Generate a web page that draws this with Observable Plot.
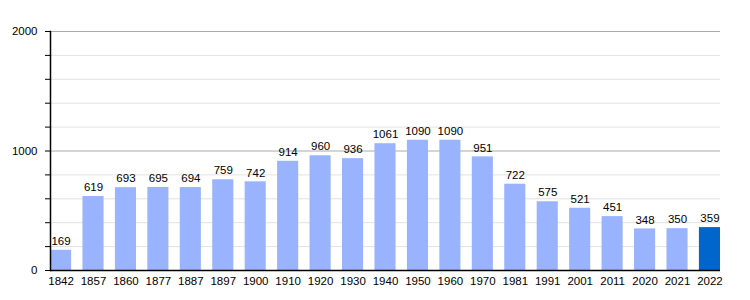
<!DOCTYPE html>
<html><head><meta charset="utf-8">
<script src="https://cdn.jsdelivr.net/npm/d3@7"></script>
<script src="https://cdn.jsdelivr.net/npm/@observablehq/plot@0.6"></script>
<style>body{margin:0;background:#fff;font-family:"Liberation Sans",Arial,sans-serif}</style>
</head><body><div id="chart"></div>
<script>
const years = ["1842","1857","1860","1877","1887","1897","1900","1910","1920","1930","1940","1950","1960","1970","1981","1991","2001","2011","2020","2021","2022"];
const population = [169,619,693,695,694,759,742,914,960,936,1061,1090,1090,951,722,575,521,451,348,350,359];
const highlightYear = "2022";
const majorTicks = [0,1000,2000];
const minorTicks = [200,400,600,800,1200,1400,1600,1800];

const data = years.map((y,i)=>({year:y, value:population[i]}));

const chart = Plot.plot({
  width: 750, height: 300,
  marginLeft: 50, marginRight: 30, marginTop: 31, marginBottom: 30,
  style: {fontFamily: '"Liberation Sans", Arial, sans-serif', fontSize: "11px", color: "#000", background: "#fff"},
  x: {domain: years, paddingInner: 0.35, paddingOuter: 0, round: false, label: null},
  y: {domain: [0,2000], label: null},
  marks: [
    Plot.ruleY(minorTicks, {stroke: "#e2e2e2", strokeWidth: 1}),
    Plot.ruleY([1000,2000], {stroke: "#aaaaaa", strokeWidth: 1}),
    Plot.barY(data, {x: "year", y: "value", fill: d => d.year === highlightYear ? "#0066cc" : "#99b3ff"}),
    Plot.text(data, {x: "year", y: "value", text: d => String(d.value), dy: -9, fontSize: 11.5, fill: "#000"}),
    Plot.axisY({ticks: [...majorTicks, ...minorTicks], tickSize: 5, tickPadding: 8, tickFormat: d => majorTicks.includes(d) ? String(d) : "", label: null, stroke: "#000", fontSize: 11.5}),
    Plot.frame({anchor: "left", stroke: "#000", strokeWidth: 1.5}),
    Plot.axisX({tickSize: 0, tickPadding: 6, label: null, fontSize: 11.5}),
    Plot.ruleY([0], {stroke: "#000", strokeWidth: 1.5})
  ]
});
document.getElementById("chart").append(chart);
</script></body></html>
